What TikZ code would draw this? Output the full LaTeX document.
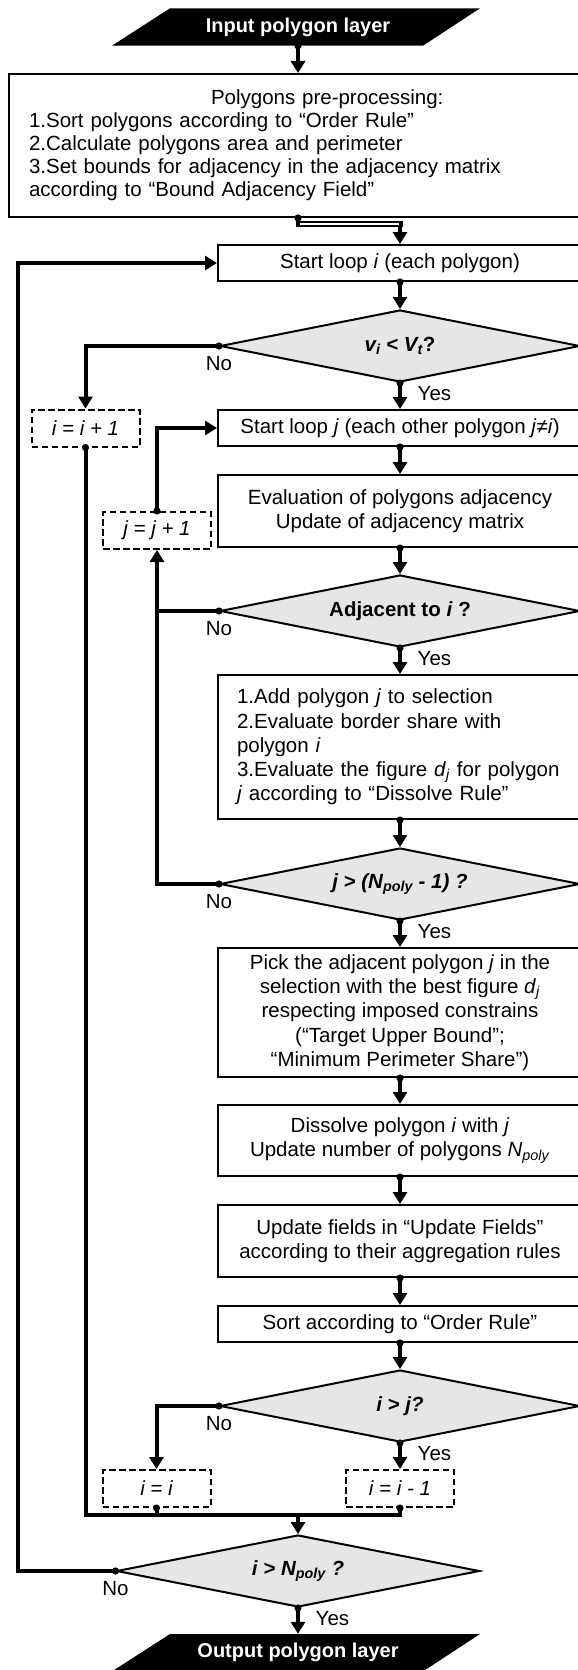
\documentclass[tikz,border=0pt]{standalone}
\usepackage{fontspec}
\setmainfont{Liberation Sans}
\usetikzlibrary{arrows.meta,shapes.geometric}
\definecolor{dfill}{RGB}{230,230,230}
\newcommand\sbs[1]{\textsubscript{#1}}
\newcommand\dotat[1]{\fill (#1) circle[radius=3.6pt];}
\begin{document}
\begin{tikzpicture}[x=1pt,y=-1pt,
  font=\fontsize{20.5}{24.3}\selectfont,
  procbox/.style={draw,line width=2pt,rectangle,inner sep=0pt,minimum width=364pt,align=center},
  decbox/.style={draw,line width=2pt,diamond,aspect=5,fill=dfill,inner sep=0pt,minimum width=360pt,minimum height=72pt,font=\fontsize{20.5}{24}\selectfont\bfseries},
  incbox/.style={draw,line width=2pt,dash pattern=on 6.5pt off 3.5pt,rectangle,inner sep=0pt,minimum width=108pt,minimum height=37pt,font=\fontsize{20.5}{24}\selectfont\itshape},
  termtext/.style={inner sep=0pt,minimum height=37.4pt,text=white,font=\fontsize{20}{24}\selectfont\bfseries},
  conn/.style={line width=4pt,-{Triangle[width=14pt,length=12pt]}},
  link/.style={line width=4pt},
  lbl/.style={inner sep=0pt,font=\fontsize{20.5}{24}\selectfont}
]
\useasboundingbox (0,0) rectangle (578,1670);

% terminals
\fill (170,8.3) -- (480,8.3) -- (423,45.7) -- (112,45.7) -- cycle;
\node[termtext] (in) at (298,27) {Input polygon layer};
\fill (170,1634) -- (480,1634) -- (423,1671.4) -- (112,1671.4) -- cycle;
\node[termtext] (out) at (298,1652.7) {Output polygon layer};

% boxes
\node[draw,line width=2pt,rectangle,inner sep=0pt,minimum width=603pt,minimum height=143pt,
      text width=563pt,align=left,font=\fontsize{20.5}{23}\selectfont] (pre) at (310.5,145.5)
 {\hspace*{182pt}Polygons pre-processing:\\
  1.Sort polygons according to “Order Rule”\\
  2.Calculate polygons area and perimeter\\
  3.Set bounds for adjacency in the adjacency matrix\\
  according to “Bound Adjacency Field”};

\node[procbox,minimum height=36pt] (si) at (400,263) {Start loop \textit{i} (each polygon)};
\node[decbox] (vd) at (400,346) {\textit{v\sbs{i} < V\sbs{t}}?};
\node[procbox,minimum height=36pt] (sj) at (400,428) {Start loop \textit{j} (each other polygon \textit{j}≠\textit{i})};
\node[incbox] (ii) at (85.5,428) {i = i + 1};
\node[incbox] (jj) at (157,530.5) {j = j + 1};
\node[procbox,minimum height=72pt] (ev) at (400,511) {Evaluation of polygons adjacency\\Update of adjacency matrix};
\node[decbox] (ad) at (400,611) {Adjacent to \textit{i} ?};
\node[procbox,minimum height=144pt,text width=326pt,align=left] (add) at (400,747)
 {1.Add polygon \textit{j} to selection\\
  2.Evaluate border share with\\
  polygon \textit{i}\\
  3.Evaluate the figure \textit{d}\sbs{\textit{j}} for polygon\\
  \textit{j} according to “Dissolve Rule”};
\node[decbox] (jn) at (400,884) {\itshape j > (N\sbs{poly} - 1) ?};
\node[procbox,minimum height=129pt] (pick) at (400,1012.5)
 {Pick the adjacent polygon \textit{j} in the\\
  selection with the best figure \textit{d}\sbs{\textit{j}}\\
  respecting imposed constrains\\
  (“Target Upper Bound”;\\
  “Minimum Perimeter Share”)};
\node[procbox,minimum height=71pt] (diss) at (400,1140.5)
 {Dissolve polygon \textit{i} with \textit{j}\\Update number of polygons \textit{N}\sbs{\textit{poly}}};
\node[procbox,minimum height=72pt] (upd) at (400,1241)
 {Update fields in “Update Fields”\\according to their aggregation rules};
\node[procbox,minimum height=36pt] (sort) at (400,1324) {Sort according to “Order Rule”};
\node[decbox] (ij) at (400,1406) {\itshape i > j?};
\node[incbox] (ieq) at (156.5,1488.5) {i = i};
\node[incbox] (idec) at (400,1488.5) {i = i - 1};
\node[decbox,minimum width=363pt] (fin) at (298,1571) {\itshape i > N\sbs{poly} ?};

\coordinate (bend) at (298,224);
\coordinate (mj) at (298,1514.5);
\coordinate (oL) at (18.3,0);

% connectors
\draw[conn] (in.south) -- (in.south |- pre.north);
\dotat{in.south}
\draw[conn] (in.south |- pre.south) -- (bend) -| (si.north);
\draw[line width=6pt] ([xshift=-2pt]bend) -- ([xshift=3pt]bend -| si.north);
\draw[white,line width=2pt] ([xshift=2pt]bend) -- ([xshift=-1pt]bend -| si.north);
\dotat{in.south |- pre.south}

\draw[conn] (si.south) -- (vd.north); \dotat{si.south}
\draw[conn] (vd.south) -- (sj.north); \dotat{vd.south}
\node[lbl,anchor=west] at ([xshift=17.5pt,yshift=-11pt]vd.south) {Yes};
\draw[conn] (vd.west) -| (ii.north); \dotat{vd.west}
\node[lbl] at ([yshift=-18pt]vd.west) {No};

\draw[conn] (sj.south) -- (ev.north); \dotat{sj.south}
\draw[conn] (ev.south) -- (ad.north); \dotat{ev.south}
\draw[conn] (ad.south) -- (add.north); \dotat{ad.south}
\node[lbl,anchor=west] at ([xshift=17.5pt,yshift=-11pt]ad.south) {Yes};
\draw[link] (ad.west) -- (ad.west -| jj.south); \dotat{ad.west}
\node[lbl] at ([yshift=-18pt]ad.west) {No};

\draw[conn] (add.south) -- (jn.north); \dotat{add.south}
\draw[conn] (jn.west) -| (jj.south); \dotat{jn.west}
\node[lbl] at ([yshift=-18pt]jn.west) {No};
\draw[conn] (jj.north) |- (sj.west); \dotat{jj.north}

\draw[conn] (jn.south) -- (pick.north); \dotat{jn.south}
\node[lbl,anchor=west] at ([xshift=17.5pt,yshift=-11pt]jn.south) {Yes};
\draw[conn] (pick.south) -- (diss.north); \dotat{pick.south}
\draw[conn] (diss.south) -- (upd.north); \dotat{diss.south}
\draw[conn] (upd.south) -- (sort.north); \dotat{upd.south}
\draw[conn] (sort.south) -- (ij.north); \dotat{sort.south}

\draw[conn] (ij.west) -| (ieq.north); \dotat{ij.west}
\node[lbl] at ([yshift=-18pt]ij.west) {No};
\draw[conn] (ij.south) -- (idec.north); \dotat{ij.south}
\node[lbl,anchor=west] at ([xshift=17.5pt,yshift=-11pt]ij.south) {Yes};

\draw[link] (ii.south) |- (idec.south |- mj) -- (idec.south);
\draw[link] (ieq.south) -- (ieq.south |- mj);
\dotat{ii.south} \dotat{ieq.south} \dotat{idec.south}
\draw[conn] (mj) -- (fin.north);

\draw[conn] (fin.west) -- (fin.west -| oL) |- (si.west); \dotat{fin.west}
\node[lbl] at ([yshift=-18pt]fin.west) {No};
\draw[conn] (fin.south) -- (out.north); \dotat{fin.south}
\node[lbl,anchor=west] at ([xshift=17.5pt,yshift=-11pt]fin.south) {Yes};
\end{tikzpicture}
\end{document}
